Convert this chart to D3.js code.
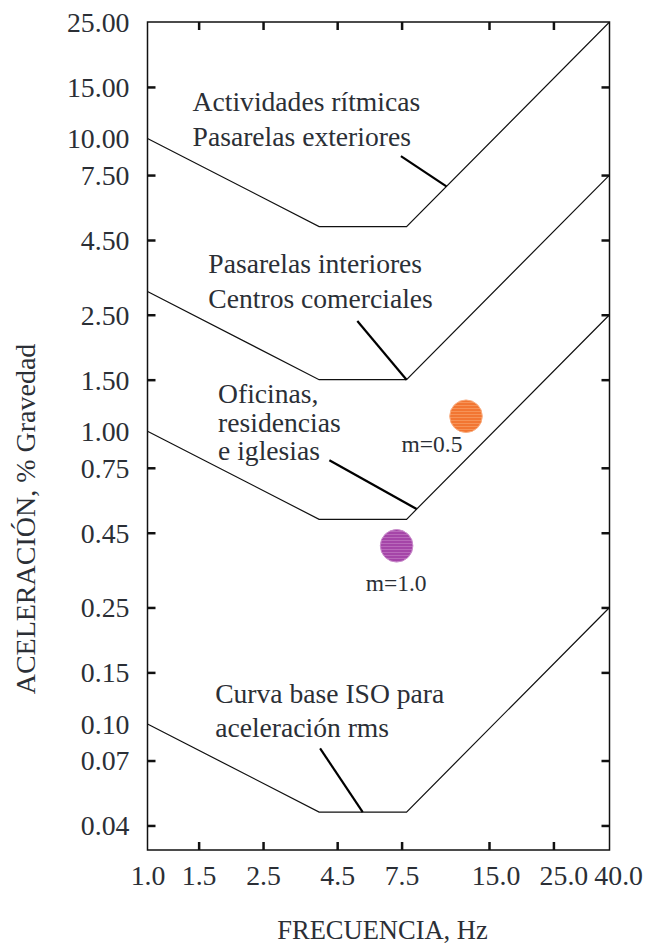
<!DOCTYPE html>
<html>
<head>
<meta charset="utf-8">
<script src="https://cdn.jsdelivr.net/npm/d3@7"></script>
<style>
  html, body { margin: 0; padding: 0; background: #fff; }
  svg { display: block; }
  text { font-family: "Liberation Serif", "Times New Roman", serif; fill: #2b2f36; }
</style>
</head>
<body>
<svg id="chart" width="647" height="944"></svg>
<script>
// ---------------- DATA ----------------
const freqs = [1, 3.9, 7.8, 39];                 // Hz, break points of every curve
const curveRhythmic = [10, 5, 5, 25];            // Actividades rítmicas / Pasarelas exteriores
const curveIndoor   = [3, 1.5, 1.5, 7.5];        // Pasarelas interiores / Centros comerciales
const curveOffices  = [1, 0.5, 0.5, 2.5];        // Oficinas, residencias e iglesias
const curveISO      = [0.1, 0.05, 0.05, 0.25];   // Curva base ISO

const xTickLabelValues = [1, 1.5, 2.5, 4.5, 7.5, 15, 25, 40];
const xTickLabels = ["1.0", "1.5", "2.5", "4.5", "7.5", "15.0", "25.0", "40.0"];
const xTickMarks = [1.5, 2.5, 4.5, 7.5, 15, 25];

const yTickLabelValues = [25, 15, 10, 7.5, 4.5, 2.5, 1.5, 1, 0.75, 0.45, 0.25, 0.15, 0.1, 0.075, 0.045];
const yTickLabels = ["25.00", "15.00", "10.00", "7.50", "4.50", "2.50", "1.50", "1.00", "0.75", "0.45", "0.25", "0.15", "0.10", "0.07", "0.04"];
const yTickMarks = [15, 7.5, 4.5, 2.5, 1.5, 0.75, 0.45, 0.25, 0.15, 0.075, 0.045];

const pointNames = ["m=0.5", "m=1.0"];
const pointFreq  = [12.5, 7.21];
const pointAcc   = [1.125, 0.406];

const annotationLines = [
  ["Actividades rítmicas", "Pasarelas exteriores"],
  ["Pasarelas interiores", "Centros comerciales"],
  ["Oficinas,", "residencias", "e iglesias"],
  ["Curva base ISO para", "aceleración rms"]
];
const annotationFreq = [1.43, 1.62, 1.75, 1.71];
const annotationAcc  = [12.4, 3.47, 1.25, 0.1178];
// leader lines: start (f, a) -> end (f, a)
const leaderFrom = [[7.46, 8.71], [5.28, 2.38], [4.23, 0.796], [3.93, 0.0825]];
const leaderTo   = [[10.7, 6.86], [7.8, 1.5], [8.45, 0.542], [5.51, 0.05]];

const pointLabelFreq = [9.54, 7.18];
const pointLabelAcc  = [0.852, 0.2855];

// ---------------- LAYOUT ----------------
const mLeft = 147.5, mRight = 609.5, mTop = 22, mBottom = 850;
const svg = d3.select("#chart");

const x = d3.scaleLog().domain([1, 39]).range([mLeft, mRight]);
const y = d3.scaleLog().domain([0.0371, 25]).range([mBottom, mTop]);

// patterns for the striped circles
const defs = svg.append("defs");
function stripePattern(id, base, stripe) {
  const p = defs.append("pattern").attr("id", id).attr("patternUnits", "userSpaceOnUse")
    .attr("width", 6).attr("height", 3);
  p.append("rect").attr("width", 6).attr("height", 3).attr("fill", base);
  p.append("rect").attr("y", 0).attr("width", 6).attr("height", 0.8).attr("fill", stripe);
}
stripePattern("stripeOrange", "#f27632", "#f79a60");
stripePattern("stripePurple", "#a545a8", "#be72c0");

defs.append("clipPath").attr("id", "plotClip").append("rect")
  .attr("x", mLeft).attr("y", mTop).attr("width", mRight - mLeft).attr("height", mBottom - mTop);

// curves
const line = d3.line().x(d => x(d[0])).y(d => y(d[1]));
const curves = [curveRhythmic, curveIndoor, curveOffices, curveISO];
svg.append("g").attr("clip-path", "url(#plotClip)")
  .selectAll("path").data(curves).join("path")
  .attr("d", c => line(freqs.map((f, i) => [f, c[i]])))
  .attr("fill", "none").attr("stroke", "#111").attr("stroke-width", 1.2);

// leader lines
svg.append("g").selectAll("line").data(leaderFrom).join("line")
  .attr("x1", d => x(d[0])).attr("y1", d => y(d[1]))
  .attr("x2", (d, i) => x(leaderTo[i][0])).attr("y2", (d, i) => y(leaderTo[i][1]))
  .attr("stroke", "#000").attr("stroke-width", 2.2);

// annotation texts
const spacing = [34.7, 35, 28.7, 33.4];
annotationLines.forEach((lines, k) => {
  const t = svg.append("text")
    .attr("x", x(annotationFreq[k])).attr("y", y(annotationAcc[k]))
    .attr("font-size", 27.6);
  lines.forEach((s, j) => {
    t.append("tspan").attr("x", x(annotationFreq[k])).attr("dy", j === 0 ? 0 : spacing[k]).text(s);
  });
});

// points
const fills = ["url(#stripeOrange)", "url(#stripePurple)"];
const strokes = ["#f9ad80", "#c98bcb"];
svg.append("g").selectAll("circle").data(pointFreq).join("circle")
  .attr("cx", (d, i) => x(d)).attr("cy", (d, i) => y(pointAcc[i]))
  .attr("r", 16.3).attr("fill", (d, i) => fills[i])
  .attr("stroke", (d, i) => strokes[i]).attr("stroke-width", 1);

svg.append("g").selectAll("text").data(pointNames).join("text")
  .attr("x", (d, i) => x(pointLabelFreq[i])).attr("y", (d, i) => y(pointLabelAcc[i]))
  .attr("text-anchor", "middle").attr("font-size", 23.5).text(d => d);

// frame
svg.append("rect").attr("x", mLeft).attr("y", mTop).attr("width", mRight - mLeft).attr("height", mBottom - mTop)
  .attr("fill", "none").attr("stroke", "#111").attr("stroke-width", 1.5);

// tick marks (inward on all four sides)
function marks(g) { g.selectAll("text").remove(); g.select(".domain").remove();
  g.selectAll("line").attr("stroke", "#111").attr("stroke-width", 2.5); }
svg.append("g").attr("transform", `translate(0,${mBottom})`)
  .call(d3.axisBottom(x).tickValues(xTickMarks).tickSize(-8)).call(marks);
svg.append("g").attr("transform", `translate(0,${mTop})`)
  .call(d3.axisTop(x).tickValues(xTickMarks).tickSize(-8)).call(marks);
svg.append("g").attr("transform", `translate(${mLeft},0)`)
  .call(d3.axisLeft(y).tickValues(yTickMarks).tickSize(-8)).call(marks);
svg.append("g").attr("transform", `translate(${mRight},0)`)
  .call(d3.axisRight(y).tickValues(yTickMarks).tickSize(-8)).call(marks);

// tick labels
const xNudge = v => (v === 15 ? 6.5 : v === 25 ? 10 : v === 40 ? 5.5 : 0);
const gx = svg.append("g").attr("transform", `translate(0,${mBottom})`)
  .call(d3.axisBottom(x).tickValues(xTickLabelValues).tickSize(0)
    .tickFormat((d, i) => xTickLabels[i]).tickPadding(0));
gx.select(".domain").remove();
gx.selectAll("text").attr("font-size", 27.8).attr("font-family", "Liberation Serif")
  .attr("fill", "#2b2f36").attr("y", 35).attr("dy", 0)
  .attr("dx", d => xNudge(d));

const gy = svg.append("g").attr("transform", `translate(${mLeft},0)`)
  .call(d3.axisLeft(y).tickValues(yTickLabelValues).tickSize(0)
    .tickFormat((d, i) => yTickLabels[i]).tickPadding(0));
gy.select(".domain").remove();
gy.selectAll("text").attr("font-size", 27.8).attr("font-family", "Liberation Serif")
  .attr("fill", "#2b2f36").attr("x", -18).attr("dy", "0.34em");

// axis titles
svg.append("text").attr("x", 382.5).attr("y", 938.5).attr("text-anchor", "middle")
  .attr("font-size", 26.5).text("FRECUENCIA, Hz");
svg.append("text").attr("transform", "translate(34.5,519) rotate(-90)")
  .attr("text-anchor", "middle").attr("font-size", 28).text("ACELERACIÓN, % Gravedad");
</script>
</body>
</html>
